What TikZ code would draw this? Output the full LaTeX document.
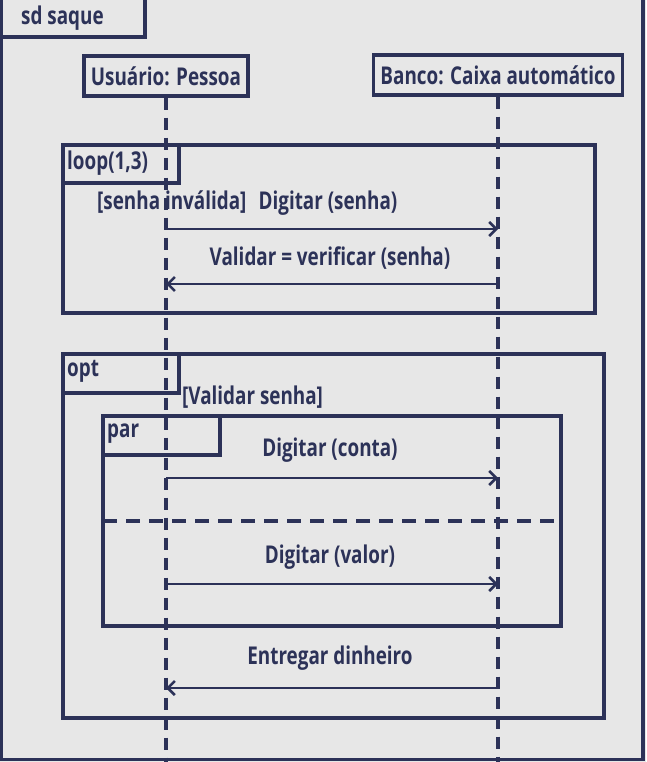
\documentclass[tikz,border=0pt]{standalone}
\usepackage{fontspec}
\newfontfamily\umlfont{Open Sans}[FakeStretch=0.77]
\usetikzlibrary{arrows.meta}
\definecolor{umlink}{RGB}{44,50,88}
\definecolor{umlbg}{RGB}{231,231,231}
\tikzset{
  frameline/.style={draw=umlink,line width=3.2pt},
  lifeline/.style={draw=umlink,line width=3.2pt,dash pattern=on 12pt off 8pt},
  objbox/.style={draw=umlink,line width=3.2pt,fill=umlbg,inner xsep=7pt,inner ysep=0pt,
    minimum height=40pt,text=umlink},
  msg/.style={draw=umlink,line width=2.8pt,-{Straight Barb[length=7pt,width=14pt,line width=2.6pt]}},
  lbl/.style={text=umlink,inner sep=1pt},
}
\begin{document}
\begin{tikzpicture}[x=1pt,y=-1pt,font=\umlfont\bfseries\fontsize{24.5}{28}\selectfont]
\useasboundingbox (0,0) rectangle (646,762);
\fill[umlbg] (0,0) rectangle (646,762);

%Shape: outer frame
\draw[frameline] (1.5,-5) rectangle (643,759.5);
%Shape: frame tab
\draw[frameline] (-5,-5) -- (145,-5) -- (145,37) -- (-5,37);
% Text Node
\node[lbl,anchor=west] (sdname) at (20,18) {sd saque};

%Shape: lifeline heads
\node[objbox] (user) at (166,76) {Usuário: Pessoa};
\node[objbox] (bank) at (498,75) {Banco: Caixa automático};
\coordinate (userend) at (166,762);
\coordinate (bankend) at (498,762);
\draw[lifeline] (user.south) -- (userend);
\draw[lifeline] (bank.south) -- (bankend);

%Shape: loop fragment
\draw[frameline] (63,145) rectangle (595,313);
\draw[frameline] (63,183) -- (179,183) -- (179,145);
\node[lbl,anchor=west] (looptag) at (66,163) {loop(1,3)};

%Shape: opt fragment
\draw[frameline] (63,354) rectangle (604,718);
\draw[frameline] (63,393) -- (179,393) -- (179,354);
\node[lbl,anchor=west] (opttag) at (66,371) {opt};
\node[lbl,anchor=west] (optguard) at (181,397) {[Validar senha]};

%Shape: par fragment
\draw[frameline] (103,416) rectangle (561,626);
\draw[frameline] (103,455) -- (220,455) -- (220,416);
\node[lbl,anchor=west] (partag) at (106,434) {par};
\draw[frameline,dash pattern=on 14pt off 9pt] (103,521) -- (561,521);

%Messages
\coordinate (u1) at (166,229); \coordinate (b1) at (498,229);
\coordinate (u2) at (166,284); \coordinate (b2) at (498,284);
\coordinate (u3) at (166,478); \coordinate (b3) at (498,478);
\coordinate (u4) at (166,584); \coordinate (b4) at (498,584);
\coordinate (u5) at (166,688); \coordinate (b5) at (498,688);

\draw[msg] (u1) -- (b1);
\draw[msg] (b2) -- (u2);
\draw[msg] (u3) -- (b3);
\draw[msg] (u4) -- (b4);
\draw[msg] (b5) -- (u5);

% Text Node
\node[lbl,anchor=west] (guard1) at (96,203) {[senha inválida]\enspace Digitar (senha)};
\node[lbl] (m2) at (330,258) {Validar = verificar (senha)};
\node[lbl] (m3) at (330,450) {Digitar (conta)};
\node[lbl] (m4) at (330,557) {Digitar (valor)};
\node[lbl] (m5) at (330,658) {Entregar dinheiro};
\end{tikzpicture}
\end{document}
